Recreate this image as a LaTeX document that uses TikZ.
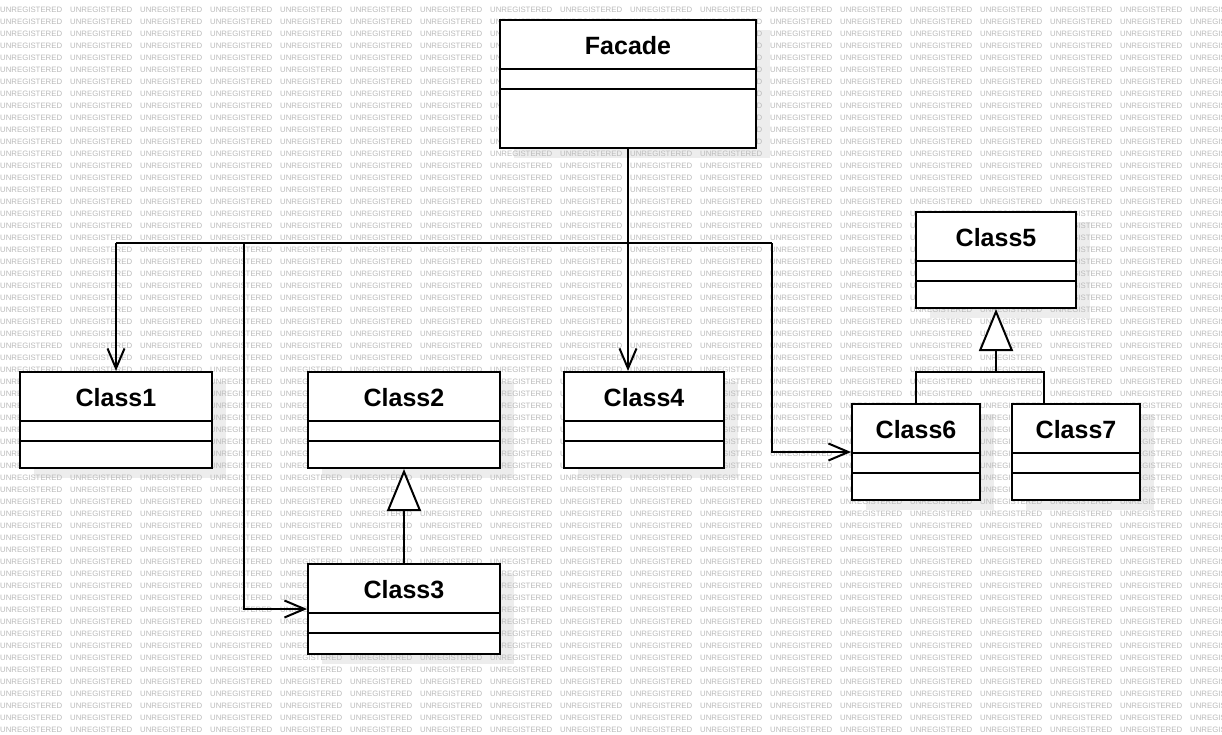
\documentclass[tikz,border=0pt]{standalone}
\usepackage{fontspec}
\setmainfont{Liberation Sans}
\usetikzlibrary{arrows.meta,calc}
\begin{document}
\begin{tikzpicture}[x=1pt,y=-1pt,
  cls/.style={draw=black,fill=white,line width=2pt,inner sep=0pt},
  ttl/.style={font=\fontsize{25}{25}\selectfont\bfseries,anchor=base,inner sep=0pt},
  wm/.style={font=\fontsize{7.8}{7.8}\selectfont,text=black!27,anchor=base west,inner sep=0pt},
  shd/.style={fill=black!7,draw=none},
  conn/.style={line width=2pt,draw=black},
  assoc/.style={conn,-{Straight Barb[length=20pt,width=17pt]}},
  inh/.style={conn,-{Triangle[length=42pt,width=34pt,fill=white]}}]
\useasboundingbox (0,0) rectangle (1222,734);
\fill[white] (0,0) rectangle (1222,734);
\def\classlist{facade/500/20/756/148/Facade, c1/20/372/212/468/Class1, c2/308/372/500/468/Class2, c3/308/564/500/654/Class3, c4/564/372/724/468/Class4, c5/916/212/1076/308/Class5, c6/852/404/980/500/Class6, c7/1012/404/1140/500/Class7}
% shadows
\foreach \n/\xa/\ya/\xb/\yb/\t in \classlist
  \fill[shd] ({\xa+14},{\ya+10}) rectangle ({\xb+14},{\yb+10});
% watermark
\foreach \i in {0,...,17}
  \foreach \j in {0,...,60}
    \node[wm] (wm-\i-\j) at ({70*\i},{12+12*\j}) {UNREGISTERED};
% class boxes
\foreach \n/\xa/\ya/\xb/\yb/\t in \classlist {
  \node[cls,minimum width={(\xb-\xa)*1pt},minimum height={(\yb-\ya)*1pt}] (\n) at ({(\xa+\xb)/2},{(\ya+\yb)/2}) {};
  \node[ttl] (\n-t) at ({(\xa+\xb)/2},{\ya+34}) {\t};
  \draw[line width=2pt] ([yshift=-50pt]\n.north west) -- ([yshift=-50pt]\n.north east);
  \draw[line width=2pt] ([yshift=-70pt]\n.north west) -- ([yshift=-70pt]\n.north east);
}
% facade connectors
\coordinate (j) at (628,243);
\coordinate (hl) at (116,243);
\coordinate (hm) at (244,243);
\coordinate (hr) at (772,243);
\draw[conn] (facade.south) -- (j);
\draw[conn] (hl) -- (hr);
\draw[assoc] (hl) -- (c1.north);
\draw[assoc] (j) -- (j |- c4.north);
\draw[assoc] (hm) |- (c3.west);
\draw[assoc] (hr) |- (c6.west);
% inheritance
\draw[inh] (c3.north) -- (c2.south);
\coordinate (k) at (996,372);
\coordinate (k7) at (1044,372);
\draw[conn] (c6.north) |- (k7) -- (k7 |- c7.north);
\draw[inh] (k) -- (c5.south);
\end{tikzpicture}
\end{document}
